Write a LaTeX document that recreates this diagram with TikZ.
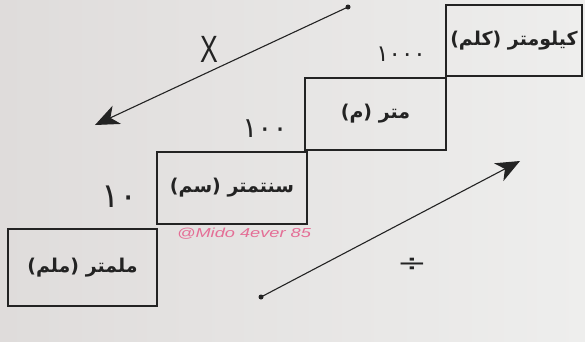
\documentclass[tikz,border=0pt]{standalone}
\usepackage{fontspec}
\usepackage{graphicx}
\usetikzlibrary{arrows.meta}
\TeXXeTstate=1
\newfontfamily\arabicfont[Script=Arabic]{DejaVu Sans}
\newfontfamily\latinfont{Liberation Sans}
\definecolor{paperL}{RGB}{223,220,219}
\definecolor{paperR}{RGB}{238,238,237}
\definecolor{ink}{RGB}{35,35,35}
\definecolor{pinkink}{RGB}{228,110,150}
\begin{document}
\begin{tikzpicture}[x=1pt,y=-1pt,
  stairbox/.style={draw=ink, line width=1.6pt, inner sep=0pt, text=ink,
    font=\arabicfont\bfseries\fontsize{19}{22}\selectfont},
  num/.style={text=ink, inner sep=0pt},
  conv/.style={draw=ink, line width=1.1pt, -{Stealth[length=24pt,width=20pt,inset=7pt]}},
  tail/.style={circle, fill=ink, inner sep=0pt, minimum size=5pt}]
\useasboundingbox (0,0) rectangle (585,341);
\shade[left color=paperL, right color=paperR] (0,0) rectangle (585,341);

% staircase boxes
\node[stairbox, minimum width=149pt, minimum height=77pt] (mm) at (82.5,267.5) {\beginR ملمتر (ملم)\endR};
\node[stairbox, minimum width=150pt, minimum height=72pt] (cm) at (232,188) {\beginR سنتمتر (سم)\endR};
\node[stairbox, minimum width=141pt, minimum height=72pt] (m) at (375.5,114) {\beginR متر (م)\endR};
\node[stairbox, minimum width=136pt, minimum height=71pt] (km) at (514,40.5) {\beginR كيلومتر (كلم)\endR};

% factors
\node[num, font=\arabicfont\fontsize{34}{36}\selectfont] (f10) at (120,197) {١٠};
\node[num, font=\arabicfont\fontsize{28}{30}\selectfont] (f100) at (265,129) {١٠٠};
\node[num, font=\arabicfont\fontsize{23}{25}\selectfont] (f1000) at (401,54) {١٠٠٠};

% multiply arrow (down-left)
\node[tail] (t1) at (348,7) {};
\coordinate (h1) at (95,125);
\draw[conv] (t1.center) -- (h1);
\node[num, font=\latinfont\fontsize{38}{40}\selectfont] (times) at (209,49) {\scalebox{0.7}[1]{X}};

% divide arrow (up-right)
\node[tail] (t2) at (261,297) {};
\coordinate (h2) at (520,161);
\draw[conv] (t2.center) -- (h2);
\node[num, font=\arabicfont\fontsize{24}{26}\selectfont] (div) at (412,265) {\scalebox{1.5}[1]{÷}};

% watermark
\node[inner sep=0pt, text=pinkink, font=\latinfont\itshape\fontsize{13}{15}\selectfont] (wm) at (244,234) {\scalebox{1.4}[1]{@Mido 4ever 85}};
\end{tikzpicture}
\end{document}
